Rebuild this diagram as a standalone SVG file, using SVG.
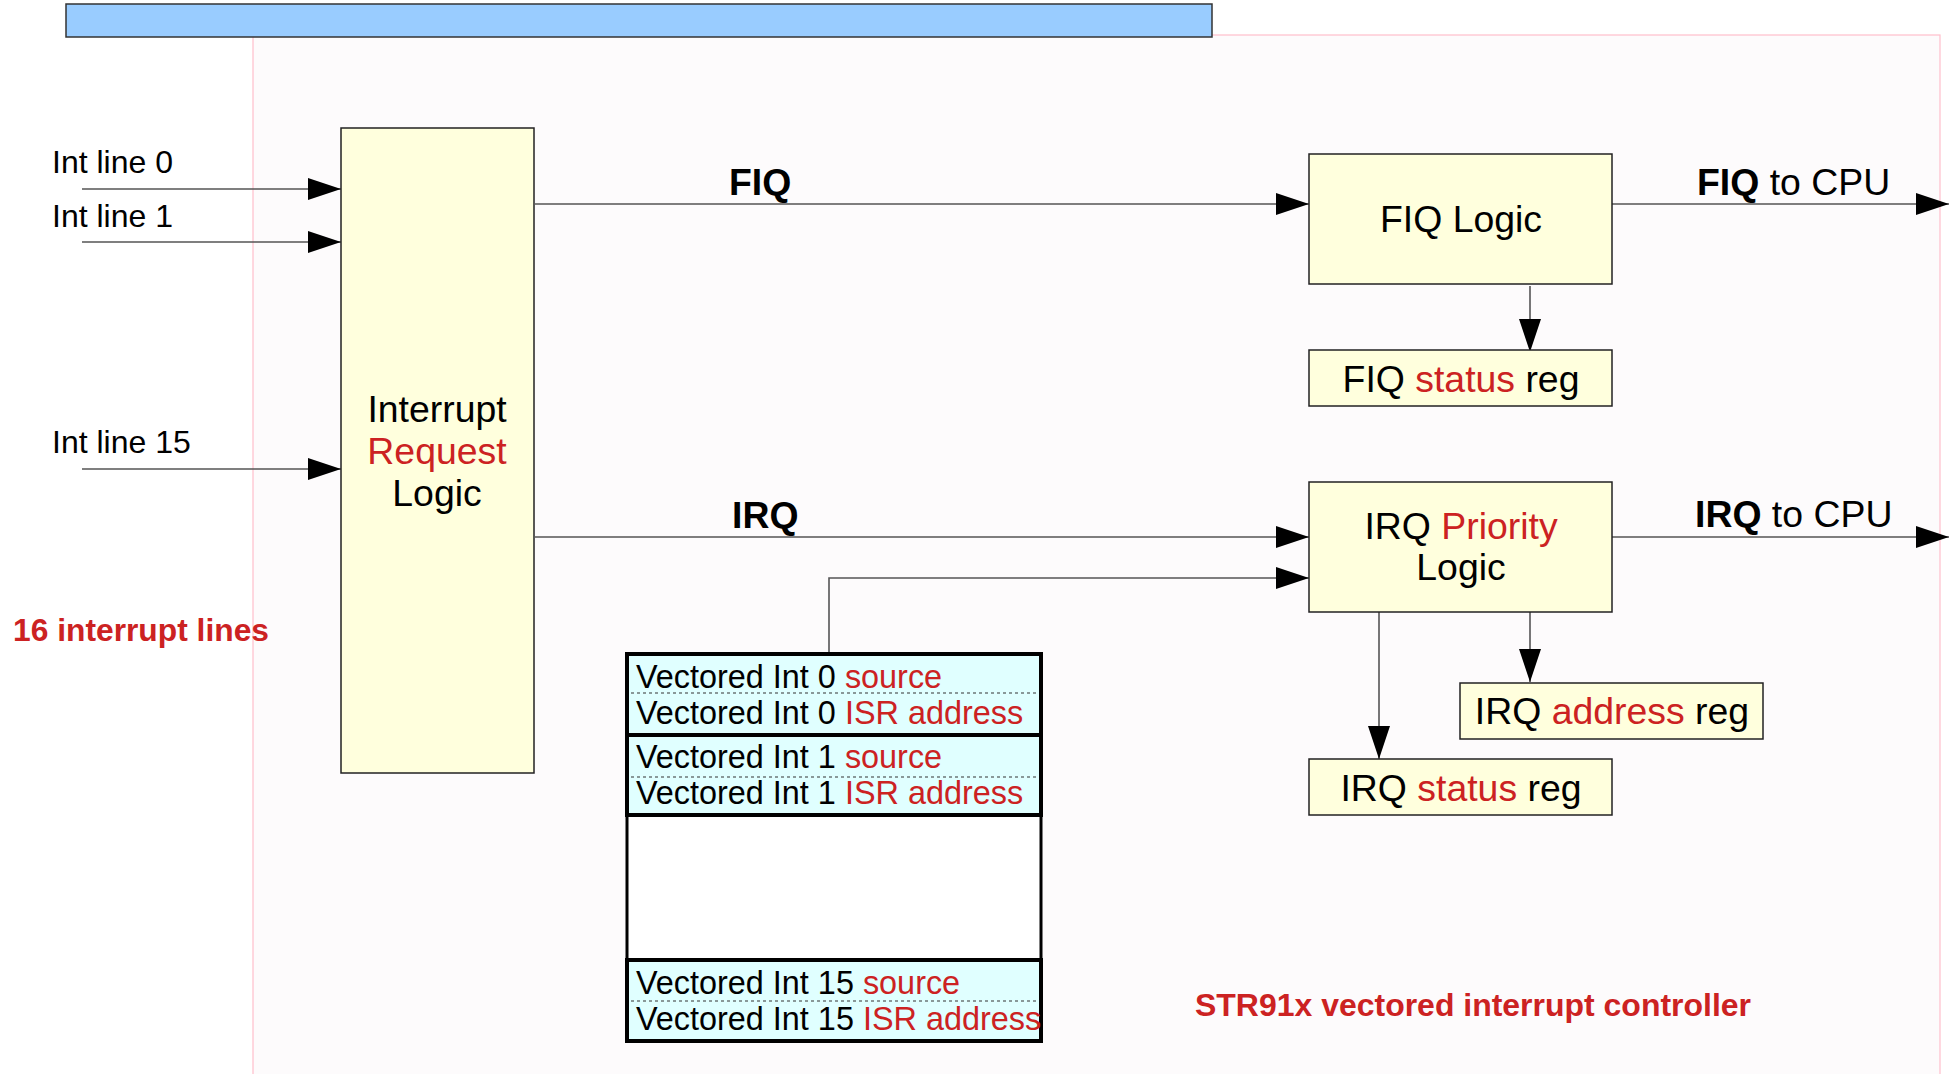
<svg xmlns="http://www.w3.org/2000/svg" width="1957" height="1074" viewBox="0 0 1957 1074">
  <style>
    text { font-family: "Liberation Sans", Arial, sans-serif; fill: #000; }
    .lbl { font-size: 37.4px; }
    .small { font-size: 32px; }
    .vt { font-size: 32.4px; }
    .b { font-weight: bold; }
    .red { fill: #cc2222; }
    .mid { text-anchor: middle; }
    .box { fill: #ffffdd; stroke: #222; stroke-width: 1.5; }
    .wire { fill: none; stroke: #555; stroke-width: 1.6; }
    .vblk { fill: #e0ffff; stroke: #000; stroke-width: 4; }
    .dots { stroke: #333; stroke-width: 1.2; stroke-dasharray: 3 3; }
  </style>
  <defs>
    <marker id="arrow" markerUnits="userSpaceOnUse" markerWidth="34" markerHeight="22" refX="33" refY="11" orient="auto">
      <path d="M0,0 L33,11 L0,22 Z" fill="#000"/>
    </marker>
  </defs>

  <!-- page background and frame -->
  <rect x="0" y="0" width="1957" height="1074" fill="#ffffff"/>
  <rect x="253" y="35" width="1687" height="1060" fill="#fdfbfc" stroke="#ffbfcb" stroke-width="1.2"/>
  <rect x="66" y="4" width="1146" height="33" fill="#99ccff" stroke="#333" stroke-width="1.5"/>

  <!-- connectors -->
  <g id="connectors">
    <path class="wire" d="M82,189 H341" marker-end="url(#arrow)"/>
    <path class="wire" d="M82,242 H341" marker-end="url(#arrow)"/>
    <path class="wire" d="M82,469 H341" marker-end="url(#arrow)"/>
    <path class="wire" d="M535,204 H1309" marker-end="url(#arrow)"/>
    <path class="wire" d="M535,537 H1309" marker-end="url(#arrow)"/>
    <path class="wire" d="M829,653 V578 H1309" marker-end="url(#arrow)"/>
    <path class="wire" d="M1612,204 H1949" marker-end="url(#arrow)"/>
    <path class="wire" d="M1612,537 H1949" marker-end="url(#arrow)"/>
    <path class="wire" d="M1530,286 V352" marker-end="url(#arrow)"/>
    <path class="wire" d="M1530,612 V682" marker-end="url(#arrow)"/>
    <path class="wire" d="M1379,612 V759" marker-end="url(#arrow)"/>
  </g>

  <!-- connector labels -->
  <g id="labels">
    <text class="small" x="52" y="173">Int line 0</text>
    <text class="small" x="52" y="227">Int line 1</text>
    <text class="small" x="52" y="453">Int line 15</text>
    <text class="lbl b" x="729" y="195">FIQ</text>
    <text class="lbl b" x="732" y="528">IRQ</text>
    <text class="lbl" x="1697" y="195"><tspan class="b">FIQ</tspan> to CPU</text>
    <text class="lbl" x="1695" y="527"><tspan class="b">IRQ</tspan> to CPU</text>
    <text class="red b" x="13" y="641" font-size="31" textLength="256" lengthAdjust="spacingAndGlyphs">16 interrupt lines</text>
    <text class="red b" x="1195" y="1016" font-size="32" textLength="556" lengthAdjust="spacingAndGlyphs">STR91x vectored interrupt controller</text>
  </g>

  <g id="irq-request-logic">
    <rect class="box" x="341" y="128" width="193" height="645"/>
    <text class="lbl mid" x="437" y="422">Interrupt</text>
    <text class="lbl mid red" x="437" y="464">Request</text>
    <text class="lbl mid" x="437" y="506">Logic</text>
  </g>

  <g id="fiq-logic">
    <rect class="box" x="1309" y="154" width="303" height="130"/>
    <text class="lbl mid" x="1461" y="232">FIQ Logic</text>
  </g>

  <g id="fiq-status-reg">
    <rect class="box" x="1309" y="350" width="303" height="56"/>
    <text class="lbl mid" x="1461" y="392">FIQ <tspan class="red">status</tspan> reg</text>
  </g>

  <g id="irq-priority-logic">
    <rect class="box" x="1309" y="482" width="303" height="130"/>
    <text class="lbl mid" x="1461" y="539">IRQ <tspan class="red">Priority</tspan></text>
    <text class="lbl mid" x="1461" y="580">Logic</text>
  </g>

  <g id="irq-address-reg">
    <rect class="box" x="1460" y="683" width="303" height="56"/>
    <text class="lbl mid" x="1612" y="724">IRQ <tspan class="red">address</tspan> reg</text>
  </g>

  <g id="irq-status-reg">
    <rect class="box" x="1309" y="759" width="303" height="56"/>
    <text class="lbl mid" x="1461" y="801">IRQ <tspan class="red">status</tspan> reg</text>
  </g>

  <g id="vector-table">
    <rect x="627" y="654" width="414" height="386" fill="#ffffff" stroke="#000" stroke-width="3"/>
    <rect class="vblk" x="627" y="654" width="414" height="81"/>
    <line class="dots" x1="631" y1="693" x2="1037" y2="693"/>
    <rect class="vblk" x="627" y="735" width="414" height="80"/>
    <line class="dots" x1="631" y1="777" x2="1037" y2="777"/>
    <rect class="vblk" x="627" y="960" width="414" height="81"/>
    <line class="dots" x1="631" y1="1001" x2="1037" y2="1001"/>
    <text class="vt" x="636" y="688">Vectored Int 0 <tspan class="red">source</tspan></text>
    <text class="vt" x="636" y="724">Vectored Int 0 <tspan class="red">ISR address</tspan></text>
    <text class="vt" x="636" y="768">Vectored Int 1 <tspan class="red">source</tspan></text>
    <text class="vt" x="636" y="804">Vectored Int 1 <tspan class="red">ISR address</tspan></text>
    <text class="vt" x="636" y="994">Vectored Int 15 <tspan class="red">source</tspan></text>
    <text class="vt" x="636" y="1030">Vectored Int 15 <tspan class="red">ISR address</tspan></text>
  </g>
</svg>
